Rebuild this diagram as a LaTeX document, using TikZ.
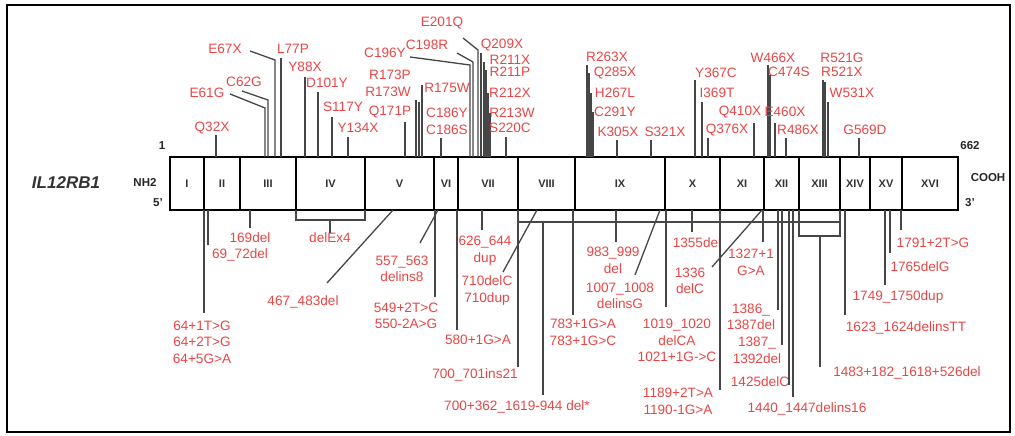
\documentclass[tikz,border=0pt]{standalone}
\usepackage{fontspec}
\setmainfont{Liberation Sans}
\usetikzlibrary{positioning}
\definecolor{mutRed}{RGB}{232,70,70}
\definecolor{stemGray}{RGB}{70,70,70}

\begin{document}
\begin{tikzpicture}[x=1pt,y=-1pt,
    mut/.style={text=mutRed, inner sep=0pt, align=center, font=\fontsize{13.6}{16.5}\selectfont},
    stem/.style={stemGray, line width=1.3pt},
    exbox/.style={draw, line width=1.2pt, minimum height=53pt, inner sep=0pt,
      font=\fontsize{11}{12}\selectfont\bfseries, text=black!80},
    tag/.style={inner sep=0pt, font=\fontsize{11.5}{12}\selectfont\bfseries, text=black!85}]
  \useasboundingbox (0,0) rectangle (1015,436);
  % frame
  \draw[line width=2pt] (7,5) rectangle (1010,432);
  % gene name and ends
  \node[inner sep=0pt, text=black!80, font=\fontsize{17}{18}\selectfont\bfseries\itshape] (gene) at (66,183) {IL12RB1};
  \node[tag] (nh) at (145,182) {NH2};
  \node[tag] (five) at (158,203) {5'};
  \node[tag] (one) at (162,146) {1};
  \node[tag] (cooh) at (988,178) {COOH};
  \node[tag] (three) at (970,203) {3'};
  \node[tag] (last) at (970,146) {662};
  % exons
  \foreach \a/\b/\r [count=\i] in {170/204/I, 204/240/II, 240/296/III, 296/365/IV,
      365/434/V, 434/458/VI, 458/518/VII, 518/575/VIII, 575/665/IX, 665/720/X,
      720/764/XI, 764/799/XII, 799/840/XIII, 840/870/XIV, 870/902/XV, 902/958/XVI} {
    \node[exbox, minimum width=\b pt-\a pt] (ex\i) at ({(\a+\b)/2},183.5) {\r};
  }
  \coordinate (gtop) at (0,157);
  \coordinate (gbot) at (0,210);
  % protein changes above the gene
  \foreach \x/\t/\lx/\ly/\txt in {216/135/212/128/Q32X, 281/58/293/49/L77P,
      305/77/305/67/Y88X, 318/92/327/83/D101Y, 332/117/343/107/S117Y,
      348/137/358/128/Y134X, 405/122/390/112/Q171P, 416/100/390/75/R173P,
      419/102/388/92/R173W, 422/85/447/88/R175W, 441/138/447/121.5/{C186Y\\C186S},
      481/53/502/45/Q209X, 484/62/510/60/R211X, 486/70/510/72/R211P,
      488/93/510/93/R212X, 490/113/512/113/R213W, 506/137/510/128/S220C,
      587/65/607/57/R263X, 589/73/615/73/Q285X, 591/93/615/93/H267L,
      593/112/615/112/C291Y, 617/140/618/132/K305X, 651/140/665/132/S321X,
      695/80/716/73/Y367C, 702/102/717/93/I369T, 708/138/727/130/Q376X,
      754/123/740/112/Q410X, 768/65/773/58/W466X, 770/75/789/72/C474S,
      775/123/785/112/E460X, 786/138/798/130/R486X, 823/80/842/58/R521G,
      825/82/842/72/R521X, 828/102/852/93/W531X, 859/138/865/130/G569D} {
    \node[mut] (m\x) at (\lx,\ly) {\txt};
    \draw[stem] (\x,\t) -- (\x,0 |- gtop);
  }
  % bent leaders
  \foreach \x/\b/\sx/\sy/\lx/\ly/\txt in {265/108/230/94/207/93/E61G,
      268/100/242/91/244/82/C62G, 275/60/250/51/225/49/E67X,
      470/65/410/57/385/53/C196Y, 473/62/457/53/427/45/C198R,
      478/50/463/38/442/23/E201Q} {
    \node[mut] (m\x) at (\lx,\ly) {\txt};
    \draw[stem] (\sx,\sy) -- (\x,\b) -- (\x,0 |- gtop);
  }
  % cDNA changes below the gene
  \foreach \x/\t/\lx/\ly/\txt in {204/313/202/342/{64+1T>G\\64+2T>G\\64+5G>A},
      208/245/240/255/69\_72del, 250/228/250/238/169del,
      435/297/406/316/{549+2T>C\\550-2A>G}, 457/330/478/340/580+1G>A,
      482/230/485/250.5/{626\_644\\dup}, 518/367/475/375/700\_701ins21,
      573/315/583/332.5/{783+1G>A\\783+1G>C}, 616/242/613/260.5/{983\_999\\del},
      666/307/677/340.5/{1019\_1020\\delCA\\1021+1G->C},
      692/232/697/243/1355del, 720/390/678/401.5/{1189+2T>A\\1190-1G>A},
      763/242/751/262.5/{1327+1\\G>A}, 778/310/751/317/{1386\_\\1387del},
      782/345/757/350.5/{1387\_\\1392del}, 789/385/760/382/1425delC,
      793/397/807/409/1440\_1447delins16, 845/315/906/328/1623\_1624delinsTT,
      885/285/898/297/1749\_1750dup, 890/253/920/267/1765delG,
      901/230/933/243/1791+2T>G} {
    \node[mut] (c\x) at (\lx,\ly) {\txt};
    \draw[stem] (\x,\t) -- (\x,0 |- gbot);
  }
  % slanted leaders
  \foreach \x/\ex/\ey/\lx/\ly/\txt in {393/327/283/303/302/467\_483del,
      438/420/243/402/269/{557\_563\\delins8}, 537/503/272/487/290.5/{710delC\\710dup},
      660/635/275/620/296/{1007\_1008\\delinsG}, 762/712/267/690/281/{1336\\delC}} {
    \node[mut] (c\x) at (\lx,\ly) {\txt};
    \draw[stem] (\x,0 |- gbot) -- (\ex,\ey);
  }
  % exon 4 deletion
  \draw[stem] (296,0 |- gbot) -- (296,220) -- (365,220) -- (365,0 |- gbot);
  \node[mut] (dex4) at (330,238) {delEx4};
  \draw[stem] (330,220) -- (dex4.north);
  % large deletion, intron 7 to intron 12
  \draw[stem] (518,222) -- (840,222);
  \node[mut] (bigdel) at (517,407) {700+362\_1619-944 del*};
  \draw[stem] (543,222) -- (543,395);
  % exon 13 deletion
  \draw[stem] (799,0 |- gbot) -- (799,236) -- (840,236) -- (840,0 |- gbot);
  \node[mut] (dex13) at (907,373) {1483+182\_1618+526del};
  \draw[stem] (820,236) -- (820,367);
\end{tikzpicture}
\end{document}
